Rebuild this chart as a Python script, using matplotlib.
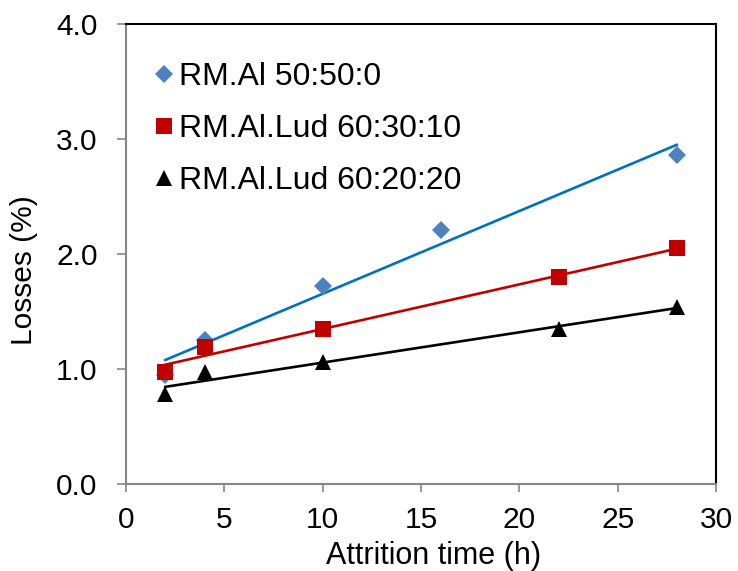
import matplotlib
matplotlib.use("Agg")
import matplotlib.pyplot as plt
import numpy as np

plt.rcParams['font.family'] = ['Liberation Sans', 'DejaVu Sans']

labels = ["RM.Al 50:50:0", "RM.Al.Lud 60:30:10", "RM.Al.Lud 60:20:20"]
x_al = [2, 4, 10, 16, 28]
y_al = [0.95, 1.25, 1.72, 2.21, 2.86]
x_lud10 = [2, 4, 10, 22, 28]
y_lud10 = [0.97, 1.19, 1.35, 1.80, 2.05]
x_lud20 = [2, 4, 10, 22, 28]
y_lud20 = [0.78, 0.97, 1.06, 1.35, 1.54]

fig = plt.figure(figsize=(7.38, 5.71), dpi=100)
ax = fig.add_axes([126 / 738, 87 / 571, 590 / 738, 460 / 571])

series = [
    (x_al, y_al, 'D', 9, '#4F81BD', '#0070C0'),
    (x_lud10, y_lud10, 's', 12, '#C00000', '#C00000'),
    (x_lud20, y_lud20, '^', 12, '#000000', '#000000'),
]
handles = []
for (xs, ys, mk, ms, mc, lc), lab in zip(series, labels):
    xs = np.array(xs, float); ys = np.array(ys, float)
    k, b = np.polyfit(xs, ys, 1)
    xt = np.array([xs.min(), xs.max()])
    ax.plot(xt, k * xt + b, color=lc, lw=1.9, zorder=2)
    h, = ax.plot(xs, ys, linestyle='none', marker=mk, markersize=ms,
                 color=mc, markeredgewidth=0, zorder=3, label=lab)
    handles.append(h)

ax.set_xlim(0, 30)
ax.set_ylim(0, 4.0)
ax.set_xticks(np.arange(0, 31, 5))
ax.set_yticks(np.arange(0, 4.01, 1.0))
ax.set_yticklabels([f"{v:.1f}" for v in np.arange(0, 4.01, 1.0)])
ax.tick_params(axis='both', labelsize=21.5, direction='out', color='#868686',
               width=1.2)
ax.tick_params(axis='y', length=6.5, pad=14)
ax.tick_params(axis='x', length=6, pad=10)
for s in ['left', 'bottom']:
    ax.spines[s].set_color('#868686')
    ax.spines[s].set_linewidth(1.5)
for s in ['top', 'right']:
    ax.spines[s].set_color('black')
    ax.spines[s].set_linewidth(1.5)

ax.set_xlabel("Attrition time (h)", fontsize=22)
ax.set_ylabel("Losses (%)", fontsize=21.5)
ax.xaxis.set_label_coords(0.521, -0.124)
ax.yaxis.set_label_coords(-0.149, 0.464)

leg = ax.legend(handles=handles, loc='upper left', frameon=False, fontsize=23,
                handlelength=0.6, handletextpad=0.16, labelspacing=0.70,
                borderaxespad=0.0, bbox_to_anchor=(0.027, 0.9457), markerscale=1.0)

fig.savefig("out.png", dpi=100)
